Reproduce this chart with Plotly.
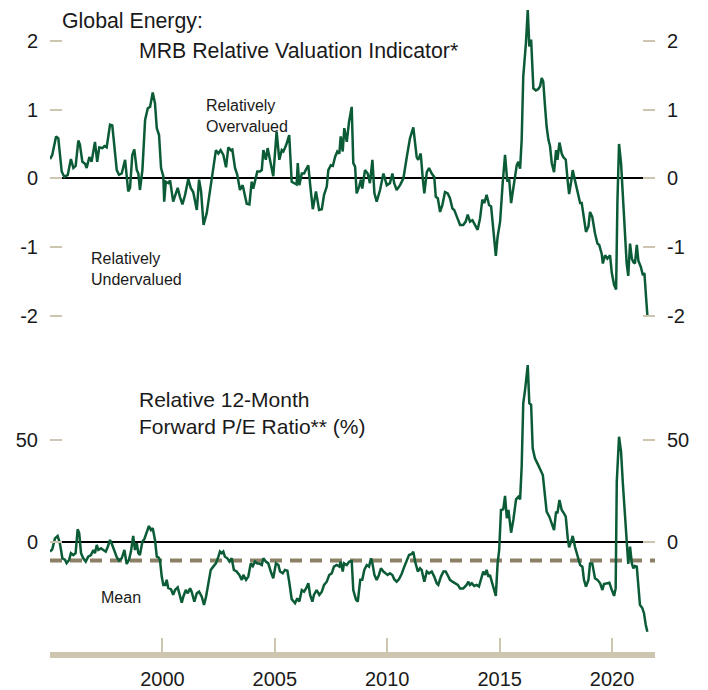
import plotly.graph_objects as go

# ---------------- data ----------------
mrb_years = [1995.00, 1995.10, 1995.27, 1995.37, 1995.52, 1995.64, 1995.79, 1995.93, 1996.04, 1996.14,
             1996.26, 1996.33, 1996.44, 1996.56, 1996.63, 1996.75, 1996.85, 1997.00, 1997.10, 1997.19,
             1997.33, 1997.42, 1997.52, 1997.67, 1997.77, 1997.97, 1998.07, 1998.19, 1998.34, 1998.48,
             1998.56, 1998.66, 1998.75, 1998.86, 1998.93, 1999.00, 1999.11, 1999.23, 1999.35, 1999.45,
             1999.57, 1999.67, 1999.75, 1999.85, 1999.94, 2000.04, 2000.08, 2000.15, 2000.26, 2000.34,
             2000.48, 2000.59, 2000.68, 2000.78, 2000.89, 2001.01, 2001.15, 2001.26, 2001.37, 2001.53,
             2001.63, 2001.72, 2001.83, 2001.97, 2002.04, 2002.19, 2002.38, 2002.49, 2002.59, 2002.71,
             2002.83, 2002.93, 2003.04, 2003.11, 2003.23, 2003.33, 2003.45, 2003.57, 2003.75, 2003.87,
             2003.97, 2004.04, 2004.22, 2004.34, 2004.42, 2004.49, 2004.60, 2004.68, 2004.82, 2004.93,
             2005.08, 2005.20, 2005.31, 2005.38, 2005.50, 2005.64, 2005.75, 2005.90, 2005.97, 2006.02,
             2006.09, 2006.20, 2006.30, 2006.39, 2006.49, 2006.57, 2006.69, 2006.83, 2006.97, 2007.09,
             2007.19, 2007.31, 2007.38, 2007.49, 2007.58, 2007.68, 2007.78, 2007.87, 2007.93, 2008.02,
             2008.09, 2008.20, 2008.30, 2008.42, 2008.49, 2008.57, 2008.64, 2008.75, 2008.83, 2008.89,
             2009.01, 2009.13, 2009.23, 2009.34, 2009.43, 2009.53, 2009.68, 2009.83, 2009.98, 2010.12,
             2010.23, 2010.31, 2010.42, 2010.57, 2010.72, 2010.87, 2011.01, 2011.16, 2011.31, 2011.38,
             2011.49, 2011.58, 2011.65, 2011.76, 2011.86, 2011.98, 2012.09, 2012.16, 2012.25, 2012.35,
             2012.45, 2012.57, 2012.69, 2012.79, 2012.90, 2012.98, 2013.09, 2013.24, 2013.38, 2013.49,
             2013.58, 2013.68, 2013.79, 2013.91, 2014.02, 2014.13, 2014.23, 2014.32, 2014.42, 2014.53,
             2014.62, 2014.72, 2014.83, 2014.91, 2015.02, 2015.14, 2015.24, 2015.34, 2015.42, 2015.51,
             2015.61, 2015.68, 2015.76, 2015.83, 2015.91, 2015.98, 2016.05, 2016.17, 2016.25, 2016.32,
             2016.40, 2016.50, 2016.61, 2016.72, 2016.80, 2016.87, 2016.94, 2017.02, 2017.09, 2017.17,
             2017.24, 2017.32, 2017.42, 2017.51, 2017.57, 2017.66, 2017.76, 2017.83, 2017.94, 2018.03,
             2018.09, 2018.18, 2018.25, 2018.35, 2018.46, 2018.58, 2018.65, 2018.75, 2018.84, 2018.95,
             2019.02, 2019.12, 2019.24, 2019.35, 2019.43, 2019.54, 2019.59, 2019.69, 2019.79, 2019.91,
             2019.99, 2020.09, 2020.18, 2020.24, 2020.31, 2020.40, 2020.48, 2020.58, 2020.65, 2020.72,
             2020.80, 2020.88, 2020.95, 2021.02, 2021.10, 2021.17, 2021.28, 2021.37, 2021.44, 2021.51,
             2021.57]
mrb_values = [0.28, 0.34, 0.61, 0.58, 0.10, 0.02, 0.05, 0.28, 0.15, 0.18,
              0.55, 0.49, 0.24, 0.21, 0.15, 0.31, 0.24, 0.53, 0.24, 0.45,
              0.44, 0.47, 0.45, 0.78, 0.77, 0.12, 0.05, 0.07, 0.27, -0.19,
              -0.14, 0.34, 0.42, 0.12, 0.07, -0.17, 0.12, 0.85, 1.02, 1.04,
              1.25, 1.09, 0.73, 0.63, 0.15, 0.03, -0.34, -0.05, -0.07, -0.03,
              -0.34, -0.22, -0.14, -0.27, -0.38, -0.24, -0.01, -0.14, -0.20, -0.46,
              -0.02, -0.19, -0.68, -0.51, -0.35, 0.00, 0.41, 0.36, 0.41, 0.34,
              0.16, 0.45, 0.41, 0.42, 0.15, 0.05, -0.17, -0.10, -0.37, -0.38,
              -0.05, -0.15, 0.10, 0.10, 0.12, 0.41, 0.27, 0.44, 0.21, 0.03,
              0.68, 0.27, 0.41, 0.39, 0.48, 0.63, -0.05, -0.07, -0.09, 0.22,
              -0.10, 0.07, 0.07, 0.13, 0.19, -0.09, -0.45, -0.19, -0.46, -0.45,
              -0.24, -0.12, 0.12, 0.19, 0.18, 0.31, 0.39, 0.36, 0.61, 0.39,
              0.73, 0.53, 0.82, 1.04, 0.22, 0.17, -0.22, -0.12, -0.02, -0.15,
              0.12, 0.07, -0.07, 0.27, -0.22, -0.34, -0.17, 0.07, -0.10, -0.07,
              0.07, -0.07, -0.17, -0.10, 0.00, 0.31, 0.58, 0.74, 0.31, 0.27,
              0.36, 0.00, -0.22, 0.09, 0.15, 0.07, 0.02, -0.27, -0.29, -0.49,
              -0.39, -0.20, -0.22, -0.29, -0.44, -0.46, -0.56, -0.68, -0.68, -0.63,
              -0.53, -0.63, -0.61, -0.68, -0.75, -0.58, -0.31, -0.36, -0.24, -0.39,
              -0.41, -0.75, -1.13, -0.85, -0.63, -0.05, 0.34, -0.05, 0.00, -0.36,
              -0.12, -0.03, 0.19, 0.24, 0.14, 0.56, 1.48, 1.97, 2.45, 1.92,
              2.02, 1.31, 1.28, 1.30, 1.34, 1.46, 1.41, 1.04, 0.75, 0.56,
              0.47, 0.22, 0.09, 0.41, 0.27, 0.52, 0.36, 0.31, 0.27, -0.05,
              -0.23, -0.05, 0.12, -0.03, -0.17, -0.36, -0.36, -0.58, -0.78, -0.70,
              -0.49, -0.56, -0.80, -0.95, -0.97, -1.10, -1.24, -1.12, -1.17, -1.12,
              -1.38, -1.55, -1.62, -0.32, 0.50, 0.22, -0.26, -0.80, -1.24, -1.42,
              -0.95, -1.17, -1.22, -1.24, -0.97, -1.20, -1.29, -1.41, -1.38, -1.72,
              -1.99]

pe_years = [1995.00, 1995.10, 1995.22, 1995.34, 1995.44, 1995.55, 1995.67, 1995.74, 1995.85, 1995.93,
            1996.04, 1996.14, 1996.23, 1996.30, 1996.38, 1996.48, 1996.59, 1996.70, 1996.82, 1996.93,
            1997.00, 1997.08, 1997.15, 1997.27, 1997.37, 1997.48, 1997.57, 1997.67, 1997.74, 1997.86,
            1997.97, 1998.07, 1998.19, 1998.31, 1998.41, 1998.51, 1998.60, 1998.70, 1998.78, 1998.86,
            1998.93, 1999.00, 1999.11, 1999.19, 1999.30, 1999.40, 1999.49, 1999.57, 1999.67, 1999.75,
            1999.82, 1999.89, 1999.97, 2000.04, 2000.12, 2000.19, 2000.26, 2000.38, 2000.48, 2000.56,
            2000.68, 2000.78, 2000.86, 2000.93, 2001.04, 2001.13, 2001.23, 2001.30, 2001.42, 2001.53,
            2001.63, 2001.75, 2001.85, 2001.94, 2002.04, 2002.15, 2002.26, 2002.38, 2002.49, 2002.56,
            2002.64, 2002.71, 2002.78, 2002.89, 2002.98, 2003.08, 2003.18, 2003.30, 2003.42, 2003.53,
            2003.60, 2003.72, 2003.82, 2003.93, 2004.02, 2004.12, 2004.22, 2004.31, 2004.42, 2004.49,
            2004.60, 2004.71, 2004.82, 2004.93, 2005.05, 2005.16, 2005.23, 2005.35, 2005.45, 2005.56,
            2005.64, 2005.75, 2005.90, 2006.00, 2006.09, 2006.20, 2006.30, 2006.39, 2006.49, 2006.57,
            2006.67, 2006.74, 2006.86, 2006.98, 2007.09, 2007.19, 2007.31, 2007.42, 2007.53, 2007.63,
            2007.75, 2007.87, 2007.93, 2008.02, 2008.08, 2008.20, 2008.31, 2008.42, 2008.49, 2008.61,
            2008.69, 2008.80, 2008.89, 2008.98, 2009.09, 2009.19, 2009.28, 2009.34, 2009.43, 2009.53,
            2009.63, 2009.72, 2009.83, 2009.93, 2010.02, 2010.12, 2010.23, 2010.31, 2010.42, 2010.52,
            2010.64, 2010.76, 2010.87, 2010.97, 2011.09, 2011.16, 2011.24, 2011.36, 2011.46, 2011.53,
            2011.65, 2011.76, 2011.86, 2011.98, 2012.09, 2012.20, 2012.27, 2012.39, 2012.50, 2012.60,
            2012.72, 2012.79, 2012.90, 2013.02, 2013.14, 2013.24, 2013.38, 2013.53, 2013.61, 2013.68,
            2013.76, 2013.87, 2013.98, 2014.08, 2014.17, 2014.27, 2014.35, 2014.42, 2014.50, 2014.57,
            2014.65, 2014.76, 2014.83, 2014.91, 2014.98, 2015.06, 2015.16, 2015.24, 2015.32, 2015.39,
            2015.51, 2015.61, 2015.73, 2015.83, 2015.91, 2015.98, 2016.05, 2016.13, 2016.21, 2016.25,
            2016.32, 2016.40, 2016.47, 2016.57, 2016.68, 2016.80, 2016.92, 2016.99, 2017.09, 2017.21,
            2017.32, 2017.42, 2017.51, 2017.57, 2017.66, 2017.76, 2017.86, 2017.94, 2018.03, 2018.09,
            2018.18, 2018.25, 2018.35, 2018.46, 2018.58, 2018.68, 2018.75, 2018.84, 2018.95, 2019.02,
            2019.12, 2019.24, 2019.35, 2019.47, 2019.57, 2019.64, 2019.76, 2019.88, 2019.99, 2020.09,
            2020.16, 2020.21, 2020.31, 2020.40, 2020.48, 2020.58, 2020.65, 2020.72, 2020.80, 2020.88,
            2020.95, 2021.02, 2021.10, 2021.17, 2021.24, 2021.35, 2021.42, 2021.50, 2021.57]
pe_values = [-4.9, -3.8, 1.6, 2.8, -0.8, -8.2, -9.0, -10.6, -9.0, -5.7,
             -6.6, -5.7, 6.1, 4.1, -5.7, -8.2, -9.8, -7.4, -6.6, -4.1,
             -5.7, -1.6, -4.1, -3.3, -4.1, -4.9, -2.5, 0.8, -0.8, -4.1,
             -7.7, -9.3, -8.2, -4.1, -11.0, -9.0, -4.9, 2.8, -4.1, -0.8,
             -5.7, -6.6, 0.0, 1.1, 4.1, 7.7, 5.7, 6.6, 0.8, -7.4,
             -7.7, -9.0, -17.2, -21.3, -21.3, -18.8, -22.9, -23.4, -26.2, -23.8,
             -22.5, -26.2, -30.0, -27.1, -23.8, -25.4, -22.9, -24.6, -29.5, -25.4,
             -24.6, -27.1, -31.1, -27.1, -21.3, -13.9, -12.3, -10.7, -7.4, -4.9,
             -5.7, -4.9, -7.4, -8.2, -9.8, -8.2, -13.9, -14.7, -16.4, -18.8,
             -16.4, -18.8, -17.2, -10.7, -12.0, -9.8, -10.7, -10.7, -11.5, -8.2,
             -9.8, -10.7, -14.7, -18.0, -10.7, -11.5, -14.7, -15.6, -13.9, -14.3,
             -19.7, -28.3, -30.3, -27.9, -29.5, -23.8, -24.6, -23.0, -20.5, -26.2,
             -29.5, -26.2, -23.8, -26.2, -24.6, -21.3, -19.7, -16.4, -15.6, -12.3,
             -11.5, -12.3, -9.8, -14.7, -10.7, -11.5, -9.8, -9.5, -23.8, -28.5,
             -29.5, -18.8, -18.8, -13.9, -11.5, -12.3, -8.2, -10.7, -16.4, -18.8,
             -16.4, -13.1, -14.7, -15.6, -16.4, -15.6, -16.4, -18.5, -19.7, -18.5,
             -15.9, -12.3, -9.0, -6.6, -6.1, -4.9, -9.8, -14.7, -13.1, -13.9,
             -19.7, -14.7, -15.6, -14.7, -17.2, -20.5, -21.3, -17.2, -14.7, -14.7,
             -17.2, -18.8, -19.7, -20.5, -21.3, -23.0, -23.0, -21.3, -19.7, -21.3,
             -20.5, -21.8, -21.3, -22.1, -18.8, -14.7, -16.4, -13.9, -17.2, -16.4,
             -19.7, -23.8, -26.7, -10.7, -4.1, 15.6, 15.9, 22.5, 11.5, 15.6,
             4.4, 10.7, 20.8, 22.1, 20.8, 36.9, 68.1, 74.6, 81.2, 86.9,
             68.1, 67.3, 45.9, 41.0, 38.5, 35.2, 32.8, 25.4, 14.8, 12.3,
             9.0, 5.7, 14.8, 13.9, 20.5, 15.6, 13.9, 12.3, 1.6, -2.8,
             0.0, 2.8, -2.5, -6.6, -11.5, -12.3, -18.8, -22.1, -18.8, -10.7,
             -10.7, -18.0, -18.8, -20.5, -23.8, -20.9, -20.5, -20.2, -23.8, -26.7,
             -23.0, 29.5, 51.6, 44.3, 28.7, 10.7, -4.1, -11.0, -2.5, -10.7,
             -13.1, -12.0, -12.3, -20.5, -31.1, -32.8, -35.2, -41.0, -44.3]

pe_mean = -9.3

mrb_ticks = [-2, -1, 0, 1, 2]
mrb_labels = ["-2", "-1", "0", "1", "2"]
pe_ticks = [0, 50]
pe_labels = ["0", "50"]
year_ticks = [2000, 2005, 2010, 2015, 2020]
year_labels = ["2000", "2005", "2010", "2015", "2020"]

# ---------------- style ----------------
GREEN = "#0b5b36"
BEIGE = "#cdc5b0"
MEAN_C = "#8c8066"
TXT = "#1a1a1a"
FONT = "Liberation Sans, Arial, sans-serif"

# The page body keeps its default 8px margin, so the figure is drawn 8px
# smaller than the window and all page positions below are offset by 8px.
FIG_W, FIG_H = 700, 682
OFF = 8
PLOT_L, PLOT_R = 50, 655        # page pixels
PLOT_T, PLOT_B = 8, 652         # page pixels

X_RANGE = [1995.0, 2021.91]
Y1_RANGE = [-2.15, 2.479]
Y2_RANGE = [-54.3, 90]
TOP_DOM = [0.5062, 1.0]
BOT_DOM = [0.0, 0.4554]

fig = go.Figure()
fig.add_trace(go.Scatter(x=mrb_years, y=mrb_values, mode="lines",
                         line=dict(color=GREEN, width=2.5), xaxis="x", yaxis="y",
                         showlegend=False, hoverinfo="x+y"))
fig.add_trace(go.Scatter(x=pe_years, y=pe_values, mode="lines",
                         line=dict(color=GREEN, width=2.5), xaxis="x2", yaxis="y2",
                         showlegend=False, hoverinfo="x+y"))
# invisible copies so the right-hand axes get drawn
fig.add_trace(go.Scatter(x=mrb_years, y=mrb_values, mode="lines", opacity=0,
                         line=dict(width=0), xaxis="x", yaxis="y3",
                         showlegend=False, hoverinfo="skip"))
fig.add_trace(go.Scatter(x=pe_years, y=pe_values, mode="lines", opacity=0,
                         line=dict(width=0), xaxis="x2", yaxis="y4",
                         showlegend=False, hoverinfo="skip"))

# mean line
fig.add_shape(type="line", xref="x2 domain", yref="y2", x0=0, x1=1, y0=pe_mean, y1=pe_mean,
              line=dict(color=MEAN_C, width=4, dash="12px,8px"), layer="below")

tick_common = dict(ticks="inside", ticklen=12, tickwidth=2, tickcolor=BEIGE,
                   showgrid=False, showline=False, ticklabelstandoff=11,
                   tickfont=dict(family=FONT, size=20, color=TXT))

fig.update_layout(
    width=FIG_W, height=FIG_H,
    margin=dict(l=PLOT_L - OFF, r=FIG_W - (PLOT_R - OFF), t=PLOT_T - OFF, b=FIG_H - (PLOT_B - OFF)),
    paper_bgcolor="white", plot_bgcolor="white",
    font=dict(family=FONT, color=TXT),
    xaxis=dict(domain=[0, 1], anchor="y", range=X_RANGE, visible=False),
    xaxis2=dict(domain=[0, 1], anchor="y2", range=X_RANGE, showgrid=False,
                showline=True, linecolor=BEIGE, linewidth=6,
                ticks="inside", ticklen=14, tickwidth=2, tickcolor=BEIGE,
                tickvals=year_ticks, ticktext=year_labels, ticklabelstandoff=4,
                tickfont=dict(family=FONT, size=20, color=TXT)),
    yaxis=dict(domain=TOP_DOM, anchor="x", range=Y1_RANGE, tickvals=mrb_ticks, ticktext=mrb_labels,
               zeroline=True, zerolinecolor="black", zerolinewidth=1.6, **tick_common),
    yaxis3=dict(overlaying="y", side="right", anchor="x", range=Y1_RANGE, tickvals=mrb_ticks,
                ticktext=mrb_labels, zeroline=False, **tick_common),
    yaxis2=dict(domain=BOT_DOM, anchor="x2", range=Y2_RANGE, tickvals=pe_ticks, ticktext=pe_labels,
                zeroline=True, zerolinecolor="black", zerolinewidth=1.6, **tick_common),
    yaxis4=dict(overlaying="y2", side="right", anchor="x2", range=Y2_RANGE, tickvals=pe_ticks,
                ticktext=pe_labels, zeroline=False, **tick_common),
)

def px_x(p):
    return (p - PLOT_L) / (PLOT_R - PLOT_L)

def px_y(p):
    return (PLOT_B - p) / (PLOT_B - PLOT_T)

ann = [
    ("Global Energy:", 60, 21.5, 21.3),
    ("MRB Relative Valuation Indicator*", 137, 50.5, 21.3),
    ("Relatively<br>Overvalued", 204, 116, 16),
    ("Relatively<br>Undervalued", 89, 269, 16),
    ("Relative 12-Month<br>Forward P/E Ratio** (%)", 137, 413, 21),
    ("Mean", 99, 597, 16),
]
for text, x, y, size in ann:
    fig.add_annotation(text=text, xref="paper", yref="paper", x=px_x(x), y=px_y(y),
                       xanchor="left", yanchor="middle", align="left", showarrow=False,
                       font=dict(family=FONT, size=size, color=TXT))

fig.write_html("out.html", config={"displayModeBar": False})
